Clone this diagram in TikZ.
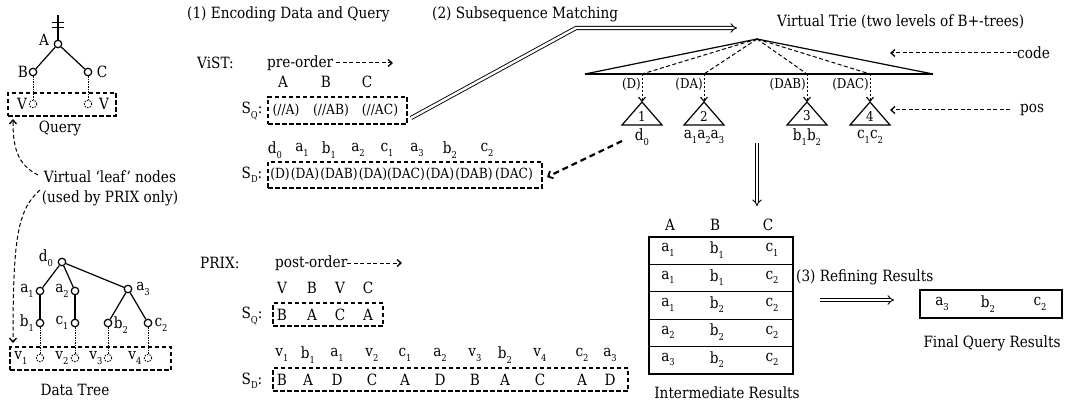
\documentclass[tikz,border=0pt]{standalone}
\usepackage{fontspec}
\setmainfont{DejaVu Serif}[FakeStretch=0.88]
\usetikzlibrary{arrows.meta}
\newcommand{\lo}[1]{\raisebox{-0.55ex}{\fontsize{9.5}{9.5}\selectfont #1}}
\tikzset{
  txt/.style={inner sep=0pt, font=\fontsize{15.5}{17}\selectfont},
  ctxt/.style={inner sep=0pt, font=\fontsize{14}{15}\selectfont},
  stxt/.style={inner sep=0pt, font=\fontsize{13.5}{14}\selectfont},
  circ/.style={circle, draw, line width=1.2pt, minimum size=7.5pt, inner sep=0pt},
  vcirc/.style={circle, draw, line width=0.9pt, dash pattern=on 1.5pt off 1.2pt, minimum size=7.5pt, inner sep=0pt},
  edge/.style={line width=1.2pt},
  vedge/.style={line width=1pt, dash pattern=on 1.5pt off 1pt},
  dbox/.style={draw, line width=1.2pt, dash pattern=on 4.5pt off 2.5pt, inner sep=0pt},
  darr/.style={line width=1pt, dash pattern=on 4pt off 2.5pt, -{Straight Barb[length=4pt,width=7pt,line width=1.3pt]}},
  bigdarr/.style={line width=2.2pt, dash pattern=on 6pt off 4pt, -{Straight Barb[length=4pt,width=8pt,line width=1.8pt]}},
  dbl/.style={double, double distance=2.4pt, line width=0.9pt, -{Implies}},
  rowbox/.style={draw, line width=1.2pt, minimum width=144pt, minimum height=27.4pt, inner sep=0pt},
}
\begin{document}
\begin{tikzpicture}[x=1pt,y=-1pt]
\useasboundingbox (0,0) rectangle (1067,406);
% ---------------- Query tree
\node[circ] (qA) at (58,44) {};
\node[circ] (qB) at (33,72) {};
\node[circ] (qC) at (88,72) {};
\node[vcirc] (qV1) at (33,104) {};
\node[vcirc] (qV2) at (88,104) {};
\coordinate (qtop) at (58,15);
\draw[edge] (qA) -- (qtop);
\draw[line width=1.1pt] (52,22.5) -- (64,22.5) (52,27.5) -- (64,27.5);
\draw[edge] (qA) -- (qB);
\draw[edge] (qA) -- (qC);
\draw[vedge] (qB) -- (qV1);
\draw[vedge] (qC) -- (qV2);
\node[txt] (lA) at (44,40) {A};
\node[txt] (lB) at (23,72) {B};
\node[txt] (lC) at (102,72) {C};
\node[txt] (lV1) at (22,104) {V};
\node[txt] (lV2) at (104,104) {V};
\node[dbox, minimum width=108pt, minimum height=23pt] (qbox) at (62,104.5) {};
\node[txt] (qlab) at (60,128) {Query};
% ---------------- virtual leaf label
\node[txt, align=center, font=\fontsize{15.5}{20}\selectfont] (vl) at (110,188) {Virtual ‘leaf’ nodes\\ (used by PRIX only)};
\coordinate (vu) at (38,175);
\coordinate (vd) at (40,190);
\coordinate (qtip) at (13,119);
\coordinate (dtip) at (13,343);
\draw[darr] (vu) .. controls (16,164) and (13,145) .. (qtip);
\draw[darr] (vd) .. controls (17,210) and (13,240) .. (dtip);
% ---------------- Data tree
\node[circ] (d0) at (62,262) {};
\node[circ] (a1) at (40,291) {};
\node[circ] (a2) at (75,291) {};
\node[circ] (a3) at (128,289) {};
\node[circ] (b1) at (40,323) {};
\node[circ] (c1) at (75,323) {};
\node[circ] (b2) at (108,323) {};
\node[circ] (c2) at (148,323) {};
\node[vcirc] (v1) at (40,358) {};
\node[vcirc] (v2) at (75,358) {};
\node[vcirc] (v3) at (108,358) {};
\node[vcirc] (v4) at (148,358) {};
\draw[edge] (d0) -- (a1);
\draw[edge] (d0) -- (a2);
\draw[edge] (d0) -- (a3);
\draw[edge] (a1) -- (b1);
\draw[edge] (a2) -- (c1);
\draw[edge] (a3) -- (b2);
\draw[edge] (a3) -- (c2);
\draw[vedge] (b1) -- (v1);
\draw[vedge] (c1) -- (v2);
\draw[vedge] (b2) -- (v3);
\draw[vedge] (c2) -- (v4);
\node[txt] (ld0) at (46,258) {d\lo{0}};
\node[txt] (la1) at (27,291) {a\lo{1}};
\node[txt] (la2) at (62,291) {a\lo{2}};
\node[txt] (la3) at (143,289) {a\lo{3}};
\node[txt] (lb1) at (27,323) {b\lo{1}};
\node[txt] (lc1) at (62,323) {c\lo{1}};
\node[txt] (lb2) at (121,325) {b\lo{2}};
\node[txt] (lc2) at (161,325) {c\lo{2}};
\node[txt] (lv1) at (21,358) {v\lo{1}};
\node[txt] (lv2) at (62,358) {v\lo{2}};
\node[txt] (lv3) at (96,358) {v\lo{3}};
\node[txt] (lv4) at (135,358) {v\lo{4}};
\node[dbox, minimum width=161pt, minimum height=23pt] (dbox) at (90.5,358.5) {};
\node[txt] (dlab) at (75,390) {Data Tree};
% ---------------- (1) Encoding
\node[txt, anchor=west] (t1) at (187,14) {(1) Encoding Data and Query};
\node[txt, anchor=west] (vist) at (197,63) {ViST:};
\node[txt, anchor=west] (pre) at (267,63) {pre-order};
\coordinate (pret) at (393,63);
\draw[darr] ([xshift=3pt]pre.east) -- (pret);
\node[txt] (hA) at (283,82) {A};
\node[txt] (hB) at (326,82) {B};
\node[txt] (hC) at (367,82) {C};
\node[txt] (sq1) at (252,111) {S\lo{Q}:};
\node[dbox, minimum width=139pt, minimum height=27pt] (sqbox) at (337.5,110.5) {};
\node[ctxt] (g1) at (286,110) {(//A)};
\node[ctxt] (g2) at (331,110) {(//AB)};
\node[ctxt] (g3) at (380,110) {(//AC)};
\foreach \l/\x in {d\lo{0}/275, a\lo{1}/302, b\lo{1}/329, a\lo{2}/358, c\lo{1}/387, a\lo{3}/417, b\lo{2}/450, c\lo{2}/487}
  \node[txt] at (\x,150) {\l};
\node[txt] (sd1) at (252,175) {S\lo{D}:};
\node[dbox, minimum width=274pt, minimum height=26pt] (sdbox) at (405,175) {};
\foreach \l/\x in {(D)/280, (DA)/305, (DAB)/339, (DA)/373, (DAC)/406, (DA)/440, (DAB)/474, (DAC)/514}
  \node[ctxt] at (\x,174) {\l};
% ---------------- PRIX
\node[txt, anchor=west] (prix) at (200,263) {PRIX:};
\node[txt, anchor=west] (post) at (275,263) {post-order};
\coordinate (postt) at (402,263);
\draw[darr] (post.east) -- (postt);
\foreach \l/\x in {V/282, B/312, V/340, C/368}
  \node[txt] at (\x,288) {\l};
\node[txt] (sq2) at (252,316) {S\lo{Q}:};
\node[dbox, minimum width=110pt, minimum height=23pt] (sqbox2) at (328,314.5) {};
\foreach \l/\x in {B/282, A/312, C/340, A/368}
  \node[txt] at (\x,315) {\l};
\foreach \l/\x in {v\lo{1}/282, b\lo{1}/308, a\lo{1}/337, v\lo{2}/372, c\lo{1}/405, a\lo{2}/440, v\lo{3}/475, b\lo{2}/505, v\lo{4}/540, c\lo{2}/582, a\lo{3}/610}
  \node[txt] at (\x,355) {\l};
\node[txt] (sd2) at (252,381) {S\lo{D}:};
\node[dbox, minimum width=355pt, minimum height=23pt] (sdbox2) at (450.5,379.5) {};
\foreach \l/\x in {B/282, A/308, D/337, C/372, A/405, D/440, B/475, A/505, C/540, A/582, D/610}
  \node[txt] at (\x,380) {\l};
% ---------------- (2) Subsequence matching
\node[txt, anchor=west] (t2) at (432,14) {(2) Subsequence Matching};
\coordinate (m1) at (411,118);
\coordinate (m2) at (576,28);
\coordinate (m3) at (737,28);
\draw[dbl] (m1) -- (m2) -- (m3);
% ---------------- Virtual trie
\node[txt, anchor=west] (vt) at (777,22) {Virtual Trie (two levels of B+-trees)};
\coordinate (apex) at (757,39);
\coordinate (bl) at (585,74);
\coordinate (br) at (933,74);
\draw[edge] (bl) -- (apex) -- (br);
\draw[line width=1.5pt] (bl) -- (br);
\foreach \i/\x/\lab/\num/\below in {1/642/(D)/1/d\lo{0}, 2/704/(DA)/2/a\lo{1}a\lo{2}a\lo{3}, 3/807/(DAB)/3/b\lo{1}b\lo{2}, 4/870/(DAC)/4/c\lo{1}c\lo{2}}{
  \coordinate (k\i) at (\x,74);
  \coordinate (t\i) at (\x,102);
  \draw[line width=1.2pt] (t\i) -- (\x-20,125) -- (\x+20,125) -- cycle;
  \node[stxt] (n\i) at (\x,116) {\num};
  \node[stxt, anchor=east] (c\i) at (\x-1,84) {\lab};
  \node[txt] (u\i) at (\x,137) {\below};
  \draw[line width=1pt, dash pattern=on 4pt off 2.5pt] (apex) -- (k\i);
  \draw[line width=1pt, dash pattern=on 2.5pt off 1.5pt, -{Straight Barb[length=4pt,width=7pt,line width=1.1pt]}] (k\i) -- (t\i);
}
\node[txt, anchor=west] (code) at (1017,53) {code};
\node[txt, anchor=west] (pos) at (1020,110) {pos};
\coordinate (codet) at (890,53);
\coordinate (post2) at (890,110);
\draw[darr] (code.west) -- (codet);
\draw[darr] ([xshift=-10pt]pos.west) -- (post2);
% big dashed arrow
\coordinate (bd1) at (622,141);
\coordinate (bd2) at (547,177);
\draw[bigdarr] (bd1) -- (bd2);
% down arrow
\coordinate (dn1) at (757,143);
\coordinate (dn2) at (757,206);
\draw[dbl] (dn1) -- (dn2);
% ---------------- Table
\node[txt] (TA) at (670,225) {A};
\node[txt] (TB) at (715,225) {B};
\node[txt] (TC) at (768,225) {C};
\foreach \i/\a/\b/\c in {0/a\lo{1}/b\lo{1}/c\lo{1}, 1/a\lo{1}/b\lo{1}/c\lo{2}, 2/a\lo{1}/b\lo{2}/c\lo{2}, 3/a\lo{2}/b\lo{2}/c\lo{2}, 4/a\lo{3}/b\lo{2}/c\lo{2}}{
  \node[rowbox] (r\i) at (721,250.7+27.4*\i) {};
  \node[txt] at (668,250+27.4*\i) {\a};
  \node[txt] at (717,250+27.4*\i) {\b};
  \node[txt] at (772,250+27.4*\i) {\c};
}
\node[txt] (ir) at (727,393) {Intermediate Results};
% ---------------- (3) Refining
\node[txt, anchor=west] (t3) at (796,277) {(3) Refining Results};
\coordinate (rf1) at (820,300);
\coordinate (rf2) at (894,300);
\draw[dbl] (rf1) -- (rf2);
\node[draw, line width=1.2pt, minimum width=142pt, minimum height=28pt, inner sep=0pt] (fbox) at (991,304) {};
\node[txt] (f1) at (942,304) {a\lo{3}};
\node[txt] (f2) at (988,304) {b\lo{2}};
\node[txt] (f3) at (1040,304) {c\lo{2}};
\node[txt] (fr) at (992,343) {Final Query Results};
\end{tikzpicture}
\end{document}
